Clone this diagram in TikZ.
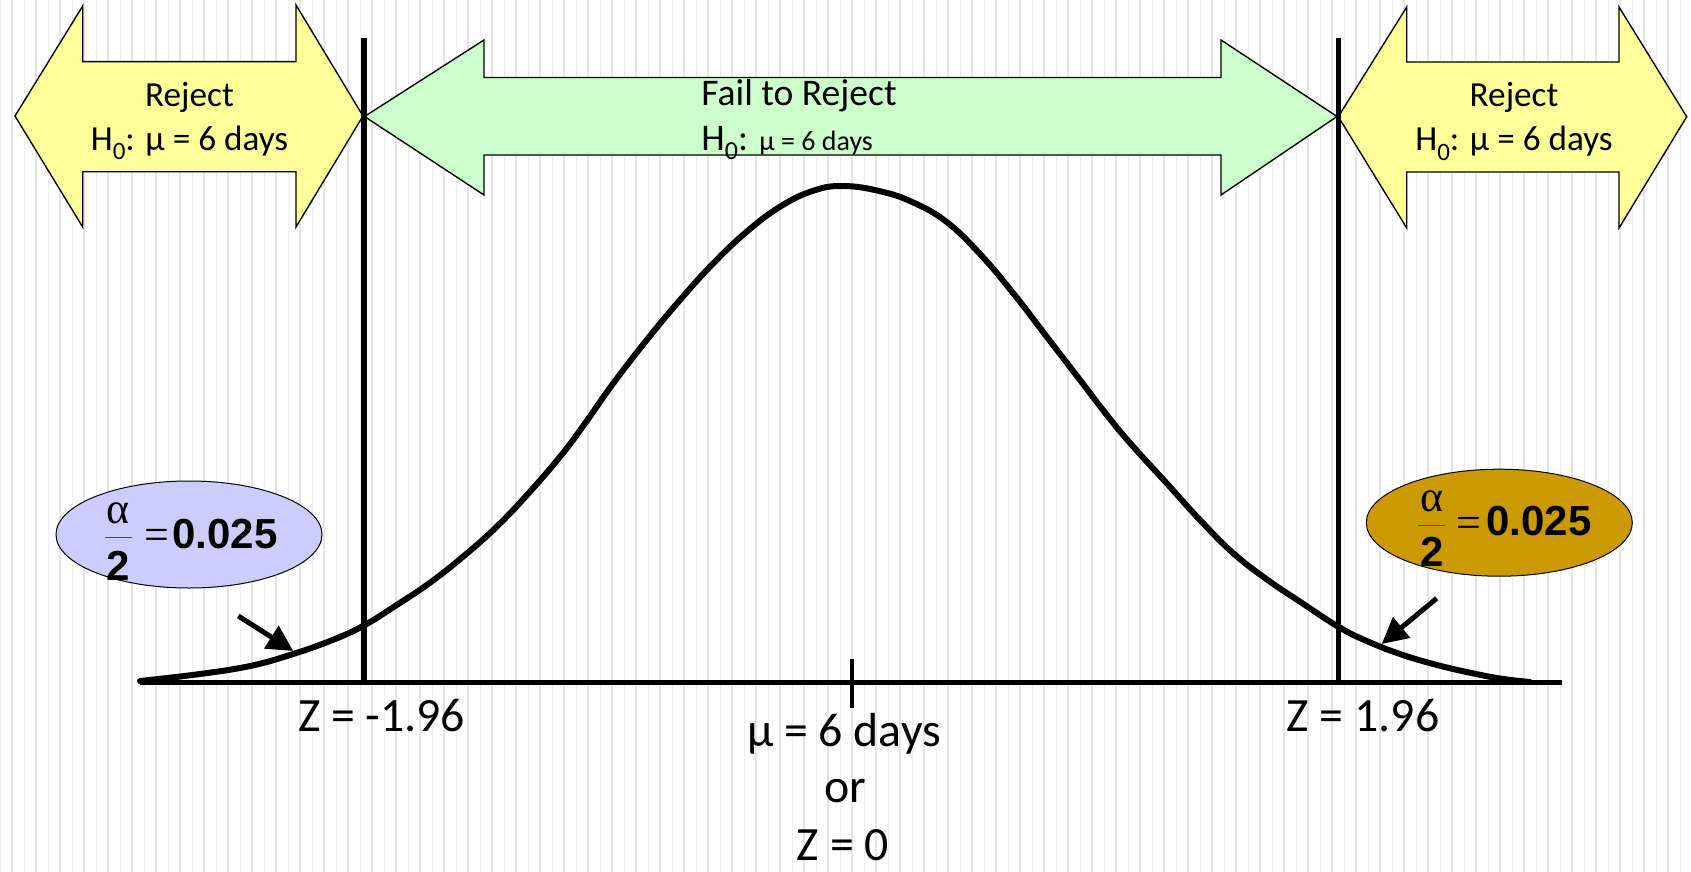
\documentclass[tikz,border=0pt]{standalone}
\usepackage{fontspec}
\setmainfont{Carlito}
\newfontfamily\arialfont{Liberation Sans}
\newfontfamily\timesfont{Liberation Serif}
\usetikzlibrary{arrows.meta,shapes.geometric}
\definecolor{yel}{HTML}{FFFF99}
\definecolor{grn}{HTML}{CCFFCC}
\definecolor{lav}{HTML}{CCCCFF}
\definecolor{gold}{HTML}{CC9900}
\tikzset{
  bgthick/.style={draw=gray!20,line width=1pt},
  bgthin/.style={draw=gray!13,line width=0.5pt},
  blockarrow/.style={draw=black,line width=0.7pt,line join=miter},
  heavy/.style={draw=black,line width=2.8pt},
  curveline/.style={draw=black,line width=3pt,line cap=round,line join=round},
  pointer/.style={draw=black,line width=2.5pt,-{Triangle[length=13pt,width=13pt]}},
  oval/.style={ellipse,draw=black,line width=0.5pt,minimum width=133pt,minimum height=53.5pt,inner sep=0pt},
  bigtxt/.style={font=\fontsize{17.6}{20}\selectfont,inner sep=0pt,anchor=base},
  failtxt/.style={font=\fontsize{18.8}{22}\selectfont,inner sep=0pt,anchor=base west},
  labtxt/.style={font=\fontsize{23.9}{28}\selectfont,inner sep=0pt,anchor=base},
  numtxt/.style={font=\arialfont\bfseries\fontsize{21}{24}\selectfont,inner sep=0pt},
  alphtxt/.style={font=\timesfont\fontsize{22}{24}\selectfont,inner sep=0pt},
  fracbar/.style={draw=black!70,line width=0.5pt}
}
\newcommand{\hzero}[2]{H\raisebox{-5pt}{\fontsize{#1}{#1}\selectfont 0}:#2}
\begin{document}
\begin{tikzpicture}[x=0.5pt,y=-0.5pt]
\useasboundingbox (0,0) rectangle (1691,872);
\fill[white] (0,0) rectangle (1691,872);
% background stripes
\foreach \k in {0,...,70} {
  \draw[bgthin] ({24*\k+0.5},0) -- ({24*\k+0.5},872);
  \draw[bgthick] ({24*\k+12},0) -- ({24*\k+12},872);
}
% block arrows
\draw[blockarrow,fill=yel] (15,116) -- (82.7,6) -- (82.7,61.7) -- (296,61.7) -- (296,5) -- (363,116)
  -- (296,227) -- (296,171.7) -- (82.7,171.7) -- (82.7,227) -- cycle;
\draw[blockarrow,fill=yel] (1338.3,116.7) -- (1406.7,7) -- (1406.7,62) -- (1619,62) -- (1619,7) -- (1686.7,116.7)
  -- (1619,228) -- (1619,172) -- (1406.7,172) -- (1406.7,228) -- cycle;
\draw[blockarrow,fill=grn] (364.5,116.5) -- (484,40) -- (484,77.5) -- (1221,77.5) -- (1221,40) -- (1337,116.5)
  -- (1221,195) -- (1221,155) -- (484,155) -- (484,195) -- cycle;
% texts in block arrows
\node[bigtxt] (rl1) at (189.5,106) {Reject};
\node[bigtxt] (rl2) at (189.5,150) {\hzero{12.5}{} µ = 6 days};
\node[bigtxt] (rr1) at (1514,106.5) {Reject};
\node[bigtxt] (rr2) at (1514,150.5) {\hzero{12.5}{} µ = 6 days};
\node[failtxt] (f1) at (701,105) {Fail to Reject};
\node[failtxt] (f2) at (701,150) {\hzero{13}{ {\fontsize{14}{16}\selectfont µ = 6 days}}};
% axis, verticals, tick
\coordinate (axL) at (140,682.5);
\coordinate (axR) at (1562,682.5);
\draw[heavy] (axL) -- (axR);
\coordinate (vLt) at (364,38);
\coordinate (vLb) at (364,682.5);
\coordinate (vRt) at (1338.3,38);
\coordinate (vRb) at (1338.3,682.5);
\draw[heavy] (vLt) -- (vLb);
\draw[heavy] (vRt) -- (vRb);
\coordinate (tkT) at (852,659);
\coordinate (tkB) at (852,708);
\draw[draw=black,line width=2.4pt] (tkT) -- (tkB);
% curve
\draw[curveline] plot[smooth,tension=0.7] coordinates {
 (140,681) (200,674) (250,666) (290,655) (330,641) (363,626) (396.7,605) (430,582.7)
 (463,556.7) (496.7,526.7) (530,491.7) (563,453) (586.7,421) (613.3,383.3) (646.7,340)
 (680,300) (713.3,263.3) (746.7,231.7) (780,206.7) (813.3,190.7) (843.3,186) (880,191.2)
 (913.3,202.5) (946.7,222) (980,254) (1013.3,293.3) (1046.7,336.7) (1080,380) (1110,419)
 (1133.3,446.7) (1166.7,483.3) (1200,520) (1233,553) (1266.7,579.3) (1300,601.7)
 (1338.3,626.7) (1366.7,641) (1400,654) (1433.3,664) (1466.7,672) (1500,678.5) (1530,682)};
% axis labels
\node[labtxt] (zL) at (381.6,731.7) {Z = -1.96};
\node[labtxt] (zR) at (1363,731) {Z = 1.96};
\node[labtxt] (mu) at (844,746) {µ = 6 days};
\node[labtxt] (or) at (845,802.7) {or};
\node[labtxt] (z0) at (843,860) {Z = 0};
% ellipses
\node[oval,fill=lav] (eL) at (189,534.5) {};
\node[oval,fill=gold] (eR) at (1499.3,522.7) {};
\node[alphtxt,anchor=base] (aL) at (118.5,523) {α};
\draw[fracbar] (105,537) -- (132,537);
\node[numtxt,anchor=base] (tL) at (118.3,580) {2};
\node[alphtxt] (qL) at (157,539.5) {=};
\node[numtxt,anchor=base west] (vL) at (172,548) {0.025};
\node[alphtxt,anchor=base] (aR) at (1431.7,511) {α};
\draw[fracbar] (1418,525) -- (1445,525);
\node[numtxt,anchor=base] (tR) at (1431.7,566) {2};
\node[alphtxt] (qR) at (1469,527.5) {=};
\node[numtxt,anchor=base west] (vR) at (1486,535) {0.025};
% pointers
\coordinate (pL1) at (238.3,616);
\coordinate (pL2) at (293.3,651);
\coordinate (pR1) at (1436.7,598.3);
\coordinate (pR2) at (1381.7,644);
\draw[pointer] (pL1) -- (pL2);
\draw[pointer] (pR1) -- (pR2);
\end{tikzpicture}
\end{document}
